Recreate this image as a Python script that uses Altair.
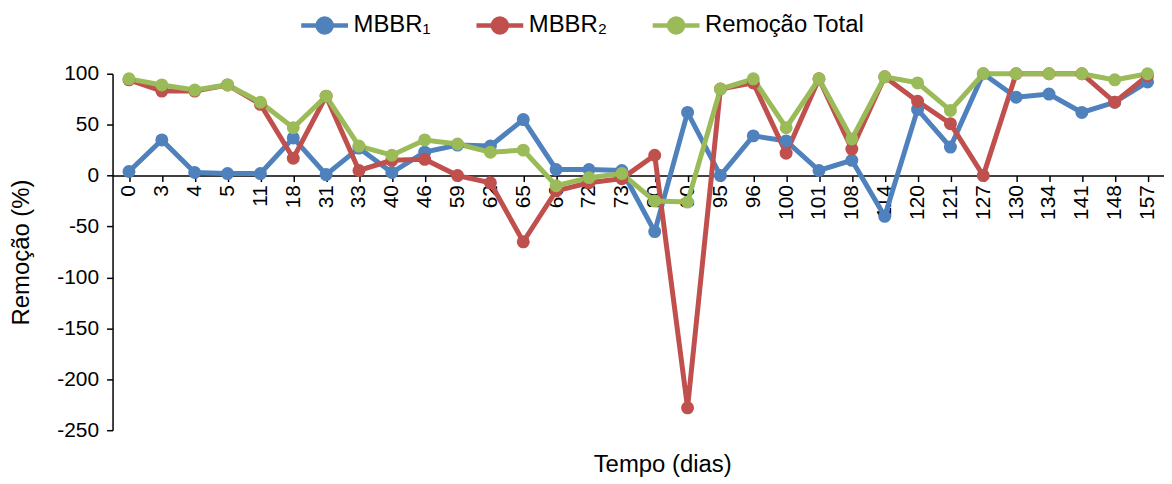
import altair as alt
import pandas as pd

dias = ["0", "3", "4", "5", "11", "18", "31", "33", "40", "46", "59", "62", "65", "66", "72", "73",
        "80", "90", "95", "96", "100", "101", "108", "114", "120", "121", "127", "130", "134", "141", "148", "157"]
mbbr1 = [4, 35, 3, 2, 2, 37, 1, 27, 3, 23, 30, 29, 55, 6, 6, 5,
         -55, 62, 0, 39, 34, 5, 15, -40, 65, 28, 100, 77, 80, 62, 72, 92]
mbbr2 = [94, 83, 83, 89, 70, 17, 78, 5, 15, 16, 0, -7, -65, -15, -7, -3,
         20, -228, 85, 91, 22, 95, 26, 97, 73, 51, 0, 100, 100, 100, 72, 98]
total = [95, 89, 84, 89, 72, 47, 78, 29, 20, 35, 31, 23, 25, -10, -2, 2,
         -25, -26, 85, 95, 47, 95, 36, 97, 91, 64, 100, 100, 100, 100, 94, 100]
series_names = ["MBBR₁", "MBBR₂", "Remoção Total"]
colors = ["#4F81BD", "#C0504D", "#9BBB59"]
y_ticks = [-250, -200, -150, -100, -50, 0, 50, 100]

rows = []
for name, vals in zip(series_names, [mbbr1, mbbr2, total]):
    for d, v in zip(dias, vals):
        rows.append({"Tempo": d, "Remocao": v, "Serie": name})
df = pd.DataFrame(rows)

W, H = 1056, 358
FONT = "Liberation Sans"
legend_path = "M-1,0L1,0M-0.3,0A0.3,0.3,0,1,1,0.3,0A0.3,0.3,0,1,1,-0.3,0Z"

color = alt.Color(
    "Serie:N",
    scale=alt.Scale(domain=series_names, range=colors),
    legend=alt.Legend(
        title=None, orient="none", direction="horizontal",
        legendX=187, legendY=-75,
        symbolType=legend_path, symbolSize=2209, symbolStrokeWidth=4.5,
        symbolOpacity=1,
        labelFont=FONT, labelFontSize=24, labelColor="black", labelLimit=400,
        columnPadding=36, labelOffset=3,
    ),
)

x = alt.X(
    "Tempo:N", sort=dias,
    scale=alt.Scale(type="point", padding=0.5),
    axis=alt.Axis(
        orient="bottom", offset=-H * 250 / 350,
        labelAngle=270, labelFontSize=21, labelPadding=3,
        tickSize=6, tickWidth=1.5, domainWidth=1.5,
        title="Tempo (dias)", titleFontSize=24, titleFontWeight="normal",
        titleX=552, titleY=290, titleBaseline="middle", titleAlign="center",
        grid=False,
    ),
)
y = alt.Y(
    "Remocao:Q",
    scale=alt.Scale(domain=[-250, 100], nice=False, zero=False),
    axis=alt.Axis(
        values=y_ticks, labelFontSize=21, labelPadding=8,
        labelExpr="'' + datum.value",
        tickSize=6, tickWidth=1.5, domainWidth=1.5,
        title="Remoção (%)", titleFontSize=24, titleFontWeight="normal",
        titleAngle=270, titleX=-91, titleY=H / 2, titleBaseline="middle", titleAlign="center",
        grid=False,
    ),
)

base = alt.Chart(df).encode(x=x, y=y, color=color)
lines = base.mark_line(strokeWidth=5)
points = base.mark_point(filled=True, size=170, opacity=1)

chart = (
    alt.layer(lines, points)
    .properties(
        width=W, height=H,
        autosize=alt.AutoSizeParams(type="none"),
        padding={"left": 105, "top": 65, "right": 0, "bottom": 52},
        background="white",
    )
    .configure_view(stroke=None)
    .configure_axis(
        labelFont=FONT, titleFont=FONT, labelColor="black", titleColor="black",
        domainColor="black", tickColor="black",
    )
)

chart.save("out.html", embed_options={"renderer": "svg", "actions": False})
